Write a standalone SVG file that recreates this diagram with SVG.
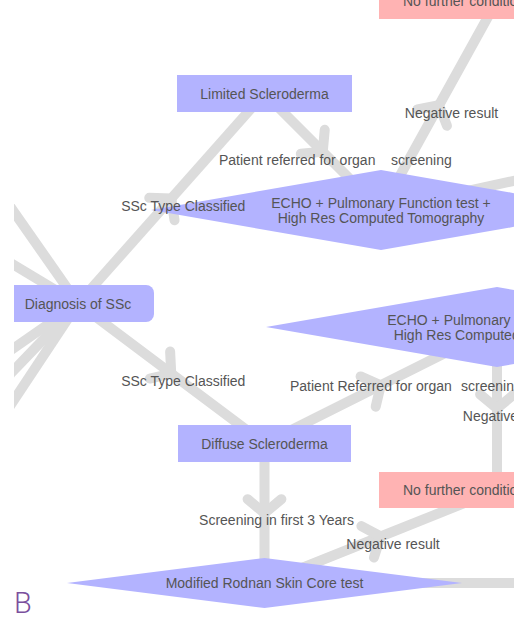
<svg xmlns="http://www.w3.org/2000/svg" width="522" height="620" viewBox="0 0 522 620">
  <style>
    .edge { fill: none; stroke: #dcdcdc; stroke-width: 10; stroke-linejoin: round; }
    .box { fill: #b3b3ff; }
    .stop { fill: #ffb3b3; }
    .txt { font-family: "Liberation Sans", Arial, sans-serif; font-size: 14px; fill: #555555; }
    .mid { text-anchor: middle; }
  </style>
  <defs>
    <clipPath id="frame">
      <rect x="14" y="0" width="500" height="620"/>
    </clipPath>
    <!-- open chevron placed halfway along each connector -->
    <marker id="chevron" markerUnits="userSpaceOnUse" orient="auto" markerWidth="1" markerHeight="1" refX="0" refY="0" style="overflow:visible">
      <path d="M-14.1,-16.9 L0,0 L-14.1,16.9" fill="none" stroke="#dcdcdc" stroke-width="10" stroke-linecap="round" stroke-linejoin="round"/>
    </marker>
  </defs>

  <g clip-path="url(#frame)">
    <g id="connectors">
      <!-- links arriving from nodes outside the frame -->
      <path class="edge" d="M-114,29 L78,303.5"/>
      <path class="edge" d="M-114,188 L78,303.5"/>
      <path class="edge" d="M-114,437 L78,303.5"/>
      <path class="edge" d="M-114,503 L78,303.5"/>
      <path class="edge" d="M-114,593 L78,303.5"/>
      <path class="edge" d="M381,210 L700,140"/>
      <path class="edge" d="M264.5,583 L760,583"/>
      <!-- Diagnosis -> Limited -->
      <path class="edge" marker-mid="url(#chevron)" d="M78,303.5 L171.25,198.5 L264.5,93.5"/>
      <!-- Diagnosis -> Diffuse -->
      <path class="edge" marker-mid="url(#chevron)" d="M78,303.5 L171.25,373.5 L264.5,443.5"/>
      <!-- Limited -> organ screening -->
      <path class="edge" marker-mid="url(#chevron)" d="M264.5,93.5 L322.75,151.75 L381,210"/>
      <!-- organ screening -> no further condition -->
      <path class="edge" marker-mid="url(#chevron)" d="M381,210 L439,105.25 L497,0.5"/>
      <!-- Diffuse -> organ screening -->
      <path class="edge" marker-mid="url(#chevron)" d="M264.5,443.5 L380.75,385.25 L497,327"/>
      <!-- Diffuse -> skin score test -->
      <path class="edge" marker-mid="url(#chevron)" d="M264.5,443.5 L264.5,513.25 L264.5,583"/>
      <!-- organ screening -> no further condition -->
      <path class="edge" marker-mid="url(#chevron)" d="M497,327 L497,408.5 L497,490"/>
      <!-- skin score test -> no further condition -->
      <path class="edge" marker-mid="url(#chevron)" d="M264.5,583 L380.75,536.5 L497,490"/>
    </g>

    <g id="no-further-top">
      <rect class="stop" x="379" y="-18" width="236" height="37"/>
      <text class="txt" x="403" y="5.5">No further condition</text>
    </g>

    <g id="limited-scleroderma">
      <rect class="box" x="177" y="75" width="175" height="37"/>
      <text class="txt mid" x="264.5" y="98.5">Limited Scleroderma</text>
    </g>

    <g id="organ-screening-limited">
      <polygon class="box" points="151,210 381,170 611,210 381,250"/>
      <text class="txt mid" x="381" y="208">ECHO + Pulmonary Function test +</text>
      <text class="txt mid" x="381" y="223">High Res Computed Tomography</text>
    </g>

    <g id="diagnosis">
      <rect class="box" x="2" y="285" width="152" height="37" rx="8"/>
      <text class="txt mid" x="78" y="308.5">Diagnosis of SSc</text>
    </g>

    <g id="organ-screening-diffuse">
      <polygon class="box" points="266,327 497,287 728,327 497,367"/>
      <text class="txt mid" x="497" y="325">ECHO + Pulmonary Function test +</text>
      <text class="txt mid" x="497" y="340">High Res Computed Tomography</text>
    </g>

    <g id="diffuse-scleroderma">
      <rect class="box" x="178" y="425" width="173" height="37"/>
      <text class="txt mid" x="264.5" y="448.5">Diffuse Scleroderma</text>
    </g>

    <g id="no-further-bottom">
      <rect class="stop" x="379" y="472" width="236" height="36"/>
      <text class="txt" x="403" y="495">No further condition</text>
    </g>

    <g id="skin-score-test">
      <polygon class="box" points="67,583 264.5,558 462,583 264.5,608"/>
      <text class="txt mid" x="264.5" y="588">Modified Rodnan Skin Core test</text>
    </g>

    <g id="connector-labels">
      <text class="txt mid" x="183.25" y="210.5">SSc Type Classified</text>
      <text class="txt mid" x="183.25" y="385.5">SSc Type Classified</text>
      <text class="txt" y="164.5"><tspan x="219">Patient referred for organ</tspan><tspan x="391">screening</tspan></text>
      <text class="txt mid" x="451.5" y="117.5">Negative result</text>
      <text class="txt" y="391"><tspan x="290">Patient Referred for organ</tspan><tspan x="461">screening</tspan></text>
      <text class="txt mid" x="509.5" y="420.5">Negative result</text>
      <text class="txt mid" x="276.5" y="525">Screening in first 3 Years</text>
      <text class="txt mid" x="393" y="548.5">Negative result</text>
    </g>
  </g>

  <text x="14" y="613" font-family="Roboto, 'Open Sans', sans-serif" font-weight="300" font-size="29" fill="#7b4f9d">B</text>
</svg>
